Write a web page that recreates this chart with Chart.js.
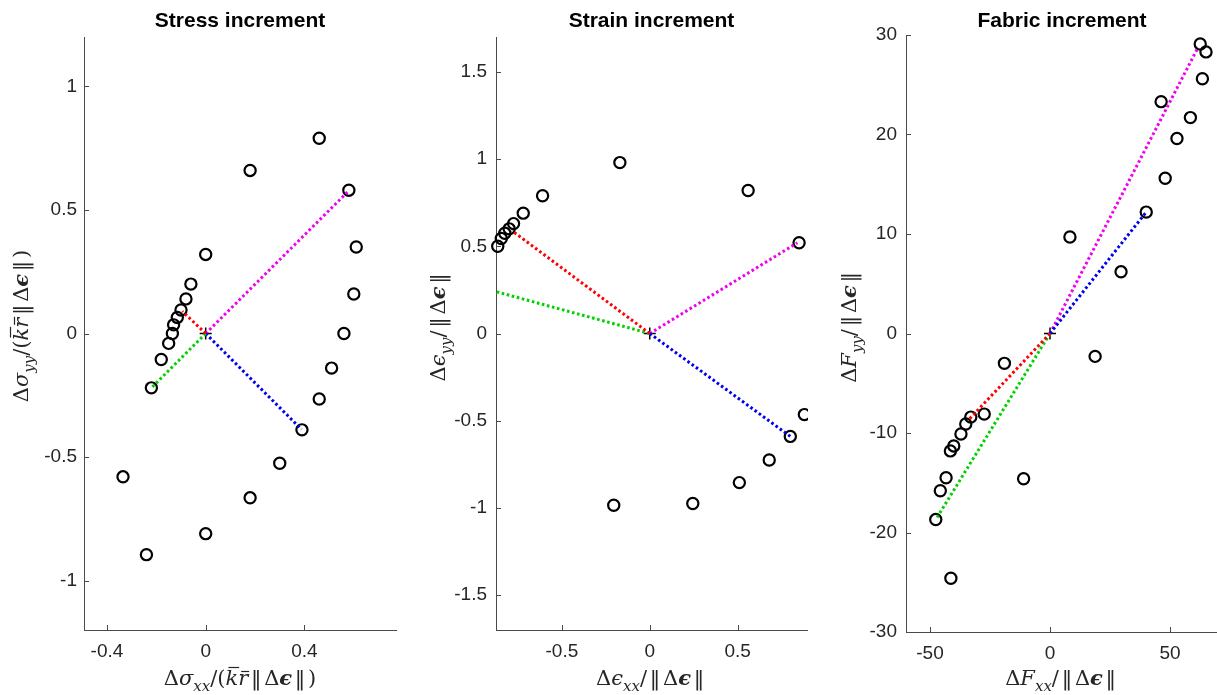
<!DOCTYPE html>
<html>
<head>
<meta charset="utf-8">
<title>Stress, strain and fabric increments</title>
<script src="https://cdn.jsdelivr.net/npm/chart.js@4"></script>
<style>
  html, body { margin: 0; padding: 0; background: #fff; }
  #figure { position: relative; width: 1217px; height: 695px; overflow: hidden; }
  #figure canvas { position: absolute; top: 0; }
</style>
</head>
<body>
<div id="figure">
  <canvas id="stressChart" width="400" height="695" style="left:0px"></canvas>
  <canvas id="strainChart" width="408" height="695" style="left:400px"></canvas>
  <canvas id="fabricChart" width="410" height="695" style="left:808px"></canvas>
</div>
<script>
// stress increment responses
const stressX = [0.46, 0.18, 0.58, 0.61, 0.00, -0.06, 0.60, -0.08, -0.10, -0.115, -0.13, -0.135, 0.56, -0.15, -0.18, 0.51, -0.22, 0.46, 0.39, 0.30, -0.335, 0.18, 0.00, -0.24];
const stressY = [0.79, 0.66, 0.58, 0.35, 0.32, 0.20, 0.16, 0.14, 0.095, 0.065, 0.035, 0.00, 0.00, -0.04, -0.105, -0.14, -0.22, -0.265, -0.39, -0.525, -0.58, -0.665, -0.81, -0.895];
const stressTicksX = [-0.4, 0, 0.4];
const stressTicksY = [-1, -0.5, 0, 0.5, 1];
// loading directions, in order red, green, blue, magenta
const stressDirX = [-0.095, -0.222, 0.388, 0.582];
const stressDirY = [0.09, -0.222, -0.388, 0.58];

// strain increment responses
const strainX = [-0.17, 0.56, -0.61, -0.72, -0.775, -0.80, -0.825, -0.845, -0.865, 0.85, 0.88, 0.80, 0.68, 0.51, 0.245, -0.205];
const strainY = [0.98, 0.82, 0.79, 0.69, 0.63, 0.60, 0.575, 0.545, 0.50, 0.52, -0.465, -0.59, -0.725, -0.855, -0.975, -0.985];
const strainTicksX = [-0.5, 0, 0.5];
const strainTicksY = [-1.5, -1, -0.5, 0, 0.5, 1, 1.5];
const strainDirX = [-0.785, -0.875, 0.80, 0.84];
const strainDirY = [0.59, 0.24, -0.59, 0.52];

// fabric increment responses
const fabricX = [62.6, 65.0, 63.5, 46.3, 58.5, 52.9, 48.0, 40.1, 8.3, 29.6, 18.8, -19.0, -27.4, -33.0, -35.1, -37.1, -40.1, -41.5, -43.3, -45.7, -11.0, -47.6, -41.3];
const fabricY = [29.1, 28.3, 25.6, 23.3, 21.7, 19.6, 15.6, 12.2, 9.7, 6.2, -2.3, -3.0, -8.1, -8.4, -9.1, -10.1, -11.3, -11.8, -14.5, -15.8, -14.6, -18.7, -24.6];
const fabricTicksX = [-50, 0, 50];
const fabricTicksY = [-30, -20, -10, 0, 10, 20, 30];
const fabricDirX = [-34.0, -47.6, 40.1, 61.8];
const fabricDirY = [-8.7, -18.7, 12.2, 28.8];

const dirColors = ['#ff0000', '#00d200', '#0000f0', '#f000f0'];
const axisColor = '#4a4a4a';
const textColor = '#262626';
const sansFont = '"Liberation Sans", Arial, Helvetica, sans-serif';

// math text: [text, flags] with i = italic, b = bold, s = subscript, o = overbar,
// p / g = small gap before / after
function mathFont(flags, size) {
  const px = flags.includes('s') ? Math.round(size * 0.72) : size;
  return (flags.includes('i') ? 'italic ' : '') + (flags.includes('b') ? 'bold ' : '') +
    px + 'px "DejaVu Serif", "Liberation Serif", serif';
}

function drawMath(ctx, parts, cx, baseline, size) {
  const gap = size * 0.13;
  const pre = parts.map(([t, f = '']) => (f.includes('p') ? gap : 0));
  let total = 0;
  const widths = parts.map(([t, f = ''], k) => {
    ctx.font = mathFont(f, size);
    const w = pre[k] + ctx.measureText(t).width + (f.includes('g') ? gap : 0);
    total += w;
    return w;
  });
  let x = cx - total / 2;
  ctx.textAlign = 'left';
  ctx.textBaseline = 'alphabetic';
  parts.forEach(([t, f = ''], k) => {
    ctx.font = mathFont(f, size);
    const dy = f.includes('s') ? size * 0.27 : 0;
    const gx = x + pre[k];
    ctx.fillText(t, gx, baseline + dy);
    if (f.includes('o')) {
      const m = ctx.measureText(t);
      const by = baseline - m.actualBoundingBoxAscent - 2.5;
      ctx.beginPath();
      ctx.lineWidth = 1.2;
      ctx.moveTo(gx + 3, by);
      ctx.lineTo(gx + m.width + 1, by);
      ctx.stroke();
    }
    x += widths[k];
  });
}

const normStrain = [['‖', 'pg'], ['Δ'], ['ϵ', 'ib'], ['‖', 'pg']];

// inward tick marks, title and axis labels
const axisDecor = {
  id: 'axisDecor',
  afterDraw(chart, args, opts) {
    const { ctx, chartArea: area, scales } = chart;
    ctx.save();
    ctx.strokeStyle = axisColor;
    ctx.lineWidth = 1;
    ctx.beginPath();
    scales.x.ticks.forEach(t => {
      const px = Math.round(scales.x.getPixelForValue(t.value)) + 0.5;
      ctx.moveTo(px, area.bottom);
      ctx.lineTo(px, area.bottom - 5);
    });
    scales.y.ticks.forEach(t => {
      const py = Math.round(scales.y.getPixelForValue(t.value)) + 0.5;
      ctx.moveTo(area.left, py);
      ctx.lineTo(area.left + 5, py);
    });
    ctx.stroke();

    const cx = (area.left + area.right) / 2;
    ctx.fillStyle = '#000';
    ctx.font = 'bold 21px ' + sansFont;
    ctx.textAlign = 'center';
    ctx.textBaseline = 'alphabetic';
    ctx.fillText(opts.title, cx, 27);

    ctx.fillStyle = textColor;
    ctx.strokeStyle = textColor;
    drawMath(ctx, opts.xLabel, cx, 685, 21);

    ctx.translate(opts.yLabelX, 326);
    ctx.rotate(-Math.PI / 2);
    drawMath(ctx, opts.yLabel, 0, 0, 21);
    ctx.restore();
  }
};

function pointsOf(xs, ys) {
  return xs.map((x, i) => ({ x: x, y: ys[i] }));
}

function makePanel(id, p) {
  const datasets = [{
    data: pointsOf(p.xs, p.ys),
    pointStyle: 'circle',
    pointRadius: 5.6,
    borderWidth: 2.2,
    borderColor: '#000',
    backgroundColor: 'rgba(0,0,0,0)',
    clip: false,
    order: 3
  }, {
    data: [{ x: 0, y: 0 }],
    pointStyle: 'cross',
    pointRadius: 6,
    borderWidth: 1.5,
    borderColor: '#000',
    order: 2
  }];
  p.dirX.forEach((dx, i) => {
    datasets.push({
      data: [{ x: 0, y: 0 }, { x: dx, y: p.dirY[i] }],
      showLine: true,
      pointRadius: 0,
      borderColor: dirColors[i],
      borderWidth: 3,
      borderDash: [2.6, 2.6],
      borderCapStyle: 'butt',
      order: 1
    });
  });

  const tickStyle = { size: 19, family: sansFont };
  return new Chart(document.getElementById(id), {
    type: 'scatter',
    data: { datasets },
    options: {
      animation: false,
      responsive: false,
      events: [],
      layout: { autoPadding: false, padding: { top: p.top, right: p.right, left: 0, bottom: 0 } },
      plugins: {
        legend: { display: false },
        tooltip: { enabled: false },
        axisDecor: { title: p.title, xLabel: p.xLabel, yLabel: p.yLabel, yLabelX: p.yLabelX }
      },
      scales: {
        x: {
          type: 'linear',
          min: p.xMin,
          max: p.xMax,
          afterBuildTicks: s => { s.ticks = p.ticksX.map(v => ({ value: v })); },
          afterFit: s => { s.height = p.xH; },
          grid: { display: false, drawTicks: false },
          border: { display: true, color: axisColor, width: 1 },
          ticks: { color: textColor, font: tickStyle, padding: 10, autoSkip: false, maxRotation: 0, callback: v => String(v) }
        },
        y: {
          type: 'linear',
          min: p.yMin,
          max: p.yMax,
          afterBuildTicks: s => { s.ticks = p.ticksY.map(v => ({ value: v })); },
          afterFit: s => { s.width = p.yW; },
          grid: { display: false, drawTicks: false },
          border: { display: true, color: axisColor, width: 1 },
          ticks: { color: textColor, font: tickStyle, padding: p.yPad, autoSkip: false, callback: v => String(v) }
        }
      }
    },
    plugins: [axisDecor]
  });
}

makePanel('stressChart', {
  title: 'Stress increment',
  xs: stressX, ys: stressY, dirX: stressDirX, dirY: stressDirY,
  ticksX: stressTicksX, ticksY: stressTicksY,
  xMin: -0.493, xMax: 0.771, yMin: -1.2, yMax: 1.2,
  top: 37, right: 4, yW: 84, xH: 65, yPad: 7, yLabelX: 28,
  xLabel: [['Δ'], ['σ', 'i'], ['xx', 'is'], ['/'], ['('], ['k', 'io'], ['r', 'io']].concat(normStrain, [[')']]),
  yLabel: [['Δ'], ['σ', 'i'], ['yy', 'is'], ['/'], ['('], ['k', 'io'], ['r', 'io']].concat(normStrain, [[')']])
});

makePanel('strainChart', {
  title: 'Strain increment',
  xs: strainX, ys: strainY, dirX: strainDirX, dirY: strainDirY,
  ticksX: strainTicksX, ticksY: strainTicksY,
  xMin: -0.875, xMax: 0.895, yMin: -1.7, yMax: 1.7,
  top: 37, right: 1, yW: 96, xH: 65, yPad: 9, yLabelX: 45,
  xLabel: [['Δ'], ['ϵ', 'i'], ['xx', 'is'], ['/']].concat(normStrain),
  yLabel: [['Δ'], ['ϵ', 'i'], ['yy', 'is'], ['/']].concat(normStrain)
});

makePanel('fabricChart', {
  title: 'Fabric increment',
  xs: fabricX, ys: fabricY, dirX: fabricDirX, dirY: fabricDirY,
  ticksX: fabricTicksX, ticksY: fabricTicksY,
  xMin: -60, xMax: 70, yMin: -30, yMax: 30,
  top: 35, right: 0, yW: 98, xH: 63, yPad: 9, yLabelX: 48,
  xLabel: [['Δ'], ['F', 'i'], ['xx', 'is'], ['/']].concat(normStrain),
  yLabel: [['Δ'], ['F', 'i'], ['yy', 'is'], ['/']].concat(normStrain)
});
</script>
</body>
</html>
